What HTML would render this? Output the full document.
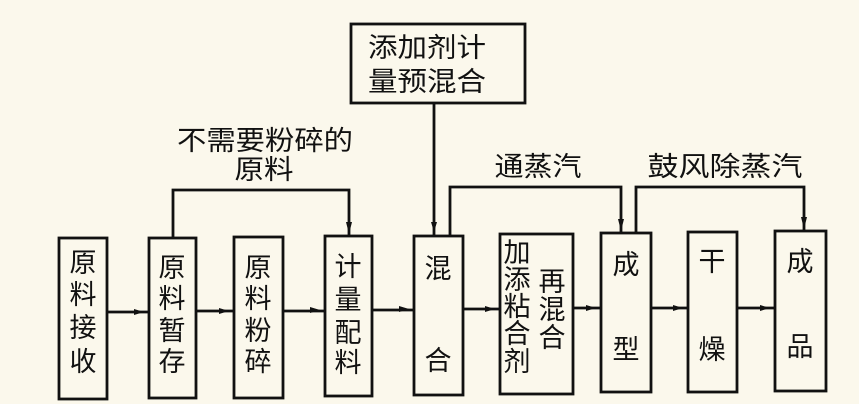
<!DOCTYPE html>
<html><head><meta charset="utf-8"><style>
html,body{margin:0;padding:0;background:#fbf8ec;}
svg{display:block}
text{font-family:"Liberation Sans","Noto Sans CJK SC",sans-serif;font-size:27px;fill:#111;text-anchor:middle;dominant-baseline:central}
</style></head><body>
<svg width="859" height="404" viewBox="0 0 859 404" xmlns="http://www.w3.org/2000/svg">
<rect width="859" height="404" fill="#fbf8ec"/>
<g fill="none" stroke="#111" stroke-width="2.8">
<rect x="59" y="238" width="48" height="161"/>
<rect x="149" y="238" width="47" height="160"/>
<rect x="234" y="237" width="49" height="161"/>
<rect x="325" y="236" width="47" height="160"/>
<rect x="414" y="236" width="49" height="159"/>
<rect x="500" y="234" width="73" height="160"/>
<rect x="601" y="233" width="50" height="159"/>
<rect x="688" y="232" width="49" height="160"/>
<rect x="775" y="231" width="51" height="160"/>
<rect x="351" y="24" width="174" height="79"/>
<path d="M107 312H149M196 311H234M283 311H325M372 310H414M463 309H500M573 308H601M651 308H688M737 308H775"/>
<path d="M434 103V236"/>
<path d="M173 238V190H349V236"/>
<path d="M450 236V187H621V233"/>
<path d="M636 233V187H804V231"/>
</g>
<g fill="#111">
<path d="M144 312l-10 -3v6z M229 311l-10 -3v6z M320 310l-10 -3v6z M409 309l-10 -3v6z M495 309l-10 -3v6z M596 308l-10 -3v6z M683 308l-10 -3v6z M770 308l-10 -3v6z"/>
<path d="M349 234l-3 -12h6z M621 231l-3 -12h6z M804 229l-3 -12h6z M434 232l-3 -10h6z"/>
</g>
<text x="83" y="263">原</text><text x="83" y="295">料</text><text x="83" y="328">接</text><text x="83" y="362">收</text>
<text x="172" y="268">原</text><text x="172" y="299">料</text><text x="172" y="331">暂</text><text x="172" y="362">存</text>
<text x="258" y="268">原</text><text x="258" y="299">料</text><text x="258" y="331">粉</text><text x="258" y="362">碎</text>
<text x="348" y="267">计</text><text x="348" y="300">量</text><text x="348" y="333">配</text><text x="348" y="363">料</text>
<text x="438" y="269">混</text><text x="438" y="361">合</text>
<text x="517" y="253" font-size="25">加</text><text x="517" y="280" font-size="25">添</text><text x="517" y="307" font-size="25">粘</text><text x="517" y="334" font-size="25">合</text><text x="517" y="362" font-size="25">剂</text>
<text x="552" y="282" font-size="25">再</text><text x="552" y="310" font-size="25">混</text><text x="552" y="338" font-size="25">合</text>
<text x="626" y="265">成</text><text x="626" y="350">型</text>
<text x="712" y="262">干</text><text x="712" y="350">燥</text>
<text x="800" y="262">成</text><text x="800" y="347">品</text>
<text x="427" y="48" textLength="118" lengthAdjust="spacingAndGlyphs">添加剂计</text>
<text x="427" y="82" textLength="118" lengthAdjust="spacingAndGlyphs">量预混合</text>
<text x="265" y="141" textLength="176" lengthAdjust="spacingAndGlyphs">不需要粉碎的</text>
<text x="264" y="170" textLength="59" lengthAdjust="spacingAndGlyphs">原料</text>
<text x="538" y="167" textLength="87" lengthAdjust="spacingAndGlyphs">通蒸汽</text>
<text x="725" y="167" textLength="155" lengthAdjust="spacingAndGlyphs">鼓风除蒸汽</text>
</svg>
</body></html>
